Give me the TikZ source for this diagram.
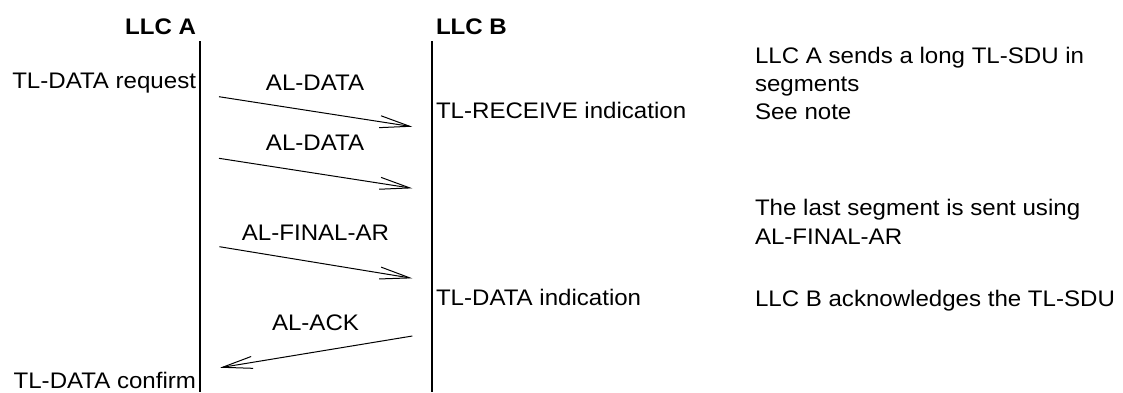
\documentclass[tikz,border=0pt]{standalone}
\usepackage{fontspec}
\setmainfont{Liberation Sans}[FakeStretch=1.07]
\usetikzlibrary{arrows.meta}
\begin{document}
\begin{tikzpicture}[x=1pt,y=-1pt,
  every node/.style={inner sep=0pt,outer sep=0pt,font=\fontsize{22.5}{28}\selectfont},
  head/.style={font=\fontsize{22.5}{28}\selectfont\bfseries},
  lifeline/.style={line width=2pt},
  msg/.style={line width=1pt,-{Straight Barb[length=30pt,width=12pt,line width=1pt]}}]
\useasboundingbox (0,0) rectangle (1123,392);
% headers
\node[head,anchor=base east] (hA) at (196,34) {LLC A};
\node[head,anchor=base west] (hB) at (436,34) {LLC B};
% lifelines
\coordinate (Atop) at (200,41);
\coordinate (Abot) at (200,392);
\coordinate (Btop) at (431.5,41);
\coordinate (Bbot) at (431.5,392);
\draw[lifeline] (Atop) -- (Abot);
\draw[lifeline] (Btop) -- (Bbot);
% left side texts
\node[anchor=base east] (req) at (196,88) {TL-DATA request};
\node[anchor=base east] (conf) at (196,388) {TL-DATA confirm};
% B side texts
\node[anchor=base west] (recv) at (436,118) {TL-RECEIVE indication};
\node[anchor=base west] (ind) at (436,305.5) {TL-DATA indication};
% message labels
\node[anchor=base] (l1) at (315,90) {AL-DATA};
\node[anchor=base] (l2) at (315,150.5) {AL-DATA};
\node[anchor=base] (l3) at (315.5,240.5) {AL-FINAL-AR};
\node[anchor=base] (l4) at (315.5,330.5) {AL-ACK};
% messages
\coordinate (m1s) at (219,96.7);  \coordinate (m1e) at (412.3,126.7);
\coordinate (m2s) at (219,158.3); \coordinate (m2e) at (412.3,188.3);
\coordinate (m3s) at (219.5,246.7); \coordinate (m3e) at (412.3,278.3);
\coordinate (m4s) at (412.3,336); \coordinate (m4e) at (220,367.7);
\draw[msg] (m1s) -- (m1e);
\draw[msg] (m2s) -- (m2e);
\draw[msg] (m3s) -- (m3e);
\draw[msg] (m4s) -- (m4e);
% notes
\node[anchor=base west] (n1a) at (755,63) {LLC A sends a long TL-SDU in};
\node[anchor=base west] (n1b) at (755,91) {segments};
\node[anchor=base west] (n1c) at (755,119) {See note};
\node[anchor=base west] (n2a) at (755,215.5) {The last segment is sent using};
\node[anchor=base west] (n2b) at (755,244) {AL-FINAL-AR};
\node[anchor=base west] (n3) at (755,306) {LLC B acknowledges the TL-SDU};
\end{tikzpicture}
\end{document}
